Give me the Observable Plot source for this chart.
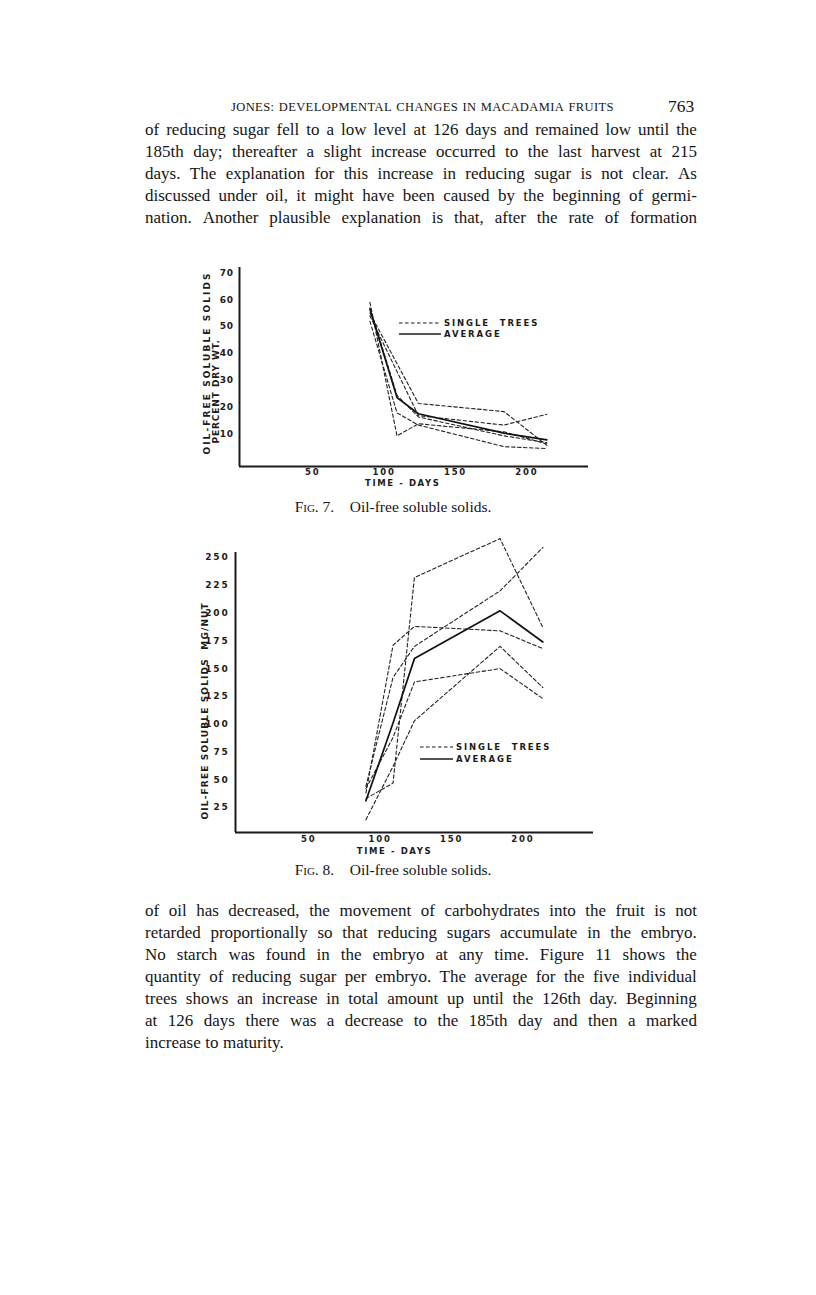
<!DOCTYPE html>
<html>
<head>
<meta charset="utf-8">
<script src="https://cdn.jsdelivr.net/npm/d3@7"></script>
<script src="https://cdn.jsdelivr.net/npm/@observablehq/plot@0.6"></script>
<style>
html, body { margin: 0; padding: 0; background: #fff; }
#page { position: relative; width: 816px; height: 1295px; background: #fff; color: #151515;
  font-family: "Liberation Serif", "DejaVu Serif", serif; overflow: hidden; }
.ln { position: absolute; left: 145px; width: 552px; height: 22px; line-height: 22px; font-size: 17px;
  display: flex; justify-content: space-between; white-space: nowrap; }
.ln.last { justify-content: flex-start; }
.ln.last span { margin-right: 4.5px; }
.hdr { position: absolute; top: 99px; left: 231px; width: 383px; font-size: 12.5px; line-height: 16px;
  display: flex; justify-content: space-between; white-space: nowrap; letter-spacing: 0.4px; }
.pageno { position: absolute; top: 96px; left: 668px; font-size: 17.5px; line-height: 20px; }
.cap { position: absolute; left: 230px; width: 326px; text-align: center; font-size: 15.5px; line-height: 18px; white-space: pre; }
.cap .sc { font-variant: small-caps; }
.chart { position: absolute; }
.chart svg text { font-family: "DejaVu Sans", "Liberation Sans", sans-serif; font-weight: bold; }
.c1 g[aria-label="y-axis tick label"] text { letter-spacing: 0.6px; }
.c1 g[aria-label="x-axis tick label"] text { letter-spacing: 1.8px; }
.c2 g[aria-label="y-axis tick label"] text { letter-spacing: 1.8px; }
.c2 g[aria-label="x-axis tick label"] text { letter-spacing: 1.8px; }
.ttlA text { letter-spacing: 2.1px; }
.ttlB text { letter-spacing: 0.9px; }
.ttlC text { letter-spacing: 1.15px; }
.ttlX text { letter-spacing: 1.6px; }
.legend { position: absolute; font-family: "DejaVu Sans", sans-serif; font-weight: bold; font-size: 8.5px;
  letter-spacing: 1.9px; color: #1b1b1b; }
.legend .row { display: flex; align-items: center; height: 11px; white-space: pre; }
.legend svg { display: block; margin-right: 3px; }
</style>
</head>
<body>
<div id="page"></div>
<script>
// ---------- data ----------
const days = [90, 109, 124, 184, 214];
const xTicks = [50, 100, 150, 200];

// Fig. 7 — oil-free soluble solids, percent dry weight
const fig7YTicks = [10, 20, 30, 40, 50, 60, 70];
const fig7Tree1 = [55, null, 21.5, 18.5, 6];
const fig7Tree2 = [54, null, 17, 13.5, 17.5];
const fig7Tree3 = [59, 9.5, 14, 11, 6.5];
const fig7Tree4 = [52, 18, 13.5, 5.5, 4.8];
const fig7Tree5 = [57, 24.5, 16.5, 9.5, 7];
const fig7Average = [56.5, 23.7, 17.7, 10.5, 8];

// Fig. 8 — oil-free soluble solids, mg per nut
const fig8YTicks = [25, 50, 75, 100, 125, 150, 175, 200, 225, 250];
const fig8Tree1 = [33, 47, 232, 267, 187];
const fig8Tree2 = [44, 142, 170, 220, 259];
const fig8Tree3 = [38, 171, 188, 184, 168];
const fig8Tree4 = [42, 88, 138, 150, 123];
const fig8Tree5 = [14, 62, 103, 170, 133];
const fig8Average = [31, 101, 159, 202, 174];

const legendLabels = ["SINGLE  TREES", "AVERAGE"];

// ---------- page text ----------
const header = "JONES: DEVELOPMENTAL CHANGES IN MACADAMIA FRUITS";
const pageNumber = "763";
const para1 = [
  "of reducing sugar fell to a low level at 126 days and remained low until the",
  "185th day; thereafter a slight increase occurred to the last harvest at 215",
  "days.  The explanation for this increase in reducing sugar is not clear.  As",
  "discussed under oil, it might have been caused by the beginning of germi-",
  "nation.  Another plausible explanation is that, after the rate of formation"
];
const para2 = [
  "of oil has decreased, the movement of carbohydrates into the fruit is not",
  "retarded proportionally so that reducing sugars accumulate in the embryo.",
  "No starch was found in the embryo at any time.  Figure 11 shows the",
  "quantity of reducing sugar per embryo.  The average for the five individual",
  "trees shows an increase in total amount up until the 126th day.  Beginning",
  "at 126 days there was a decrease to the 185th day and then a marked",
  "increase to maturity."
];

const page = document.getElementById("page");

function addLine(text, top, last) {
  const d = document.createElement("div");
  d.className = "ln" + (last ? " last" : "");
  d.style.top = top + "px";
  text.split(/\s+/).forEach(w => { const s = document.createElement("span"); s.textContent = w; d.appendChild(s); });
  page.appendChild(d);
}

const h = document.createElement("div");
h.className = "hdr";
header.split(" ").forEach(w => { const s = document.createElement("span"); s.textContent = w; h.appendChild(s); });
page.appendChild(h);
const pn = document.createElement("div");
pn.className = "pageno"; pn.textContent = pageNumber; page.appendChild(pn);

para1.forEach((t, i) => addLine(t, 119 + i * 22, false));
para2.forEach((t, i) => addLine(t, 900 + i * 22, i === para2.length - 1));

function addCaption(num, top) {
  const c = document.createElement("div");
  c.className = "cap";
  c.style.top = top + "px";
  const sc = document.createElement("span");
  sc.className = "sc"; sc.textContent = "Fig.";
  c.appendChild(sc);
  c.appendChild(document.createTextNode(" " + num + ".    Oil-free soluble solids."));
  page.appendChild(c);
}
addCaption(7, 498);
addCaption(8, 861);

// ---------- charts ----------
function buildChart(o) {
  const rows = [];
  o.trees.forEach((vals, t) => vals.forEach((v, i) => {
    if (v !== null) rows.push({day: days[i], value: v, tree: "Tree " + (t + 1)});
  }));
  const avg = o.average.map((v, i) => ({day: days[i], value: v}));
  const font = {fontWeight: "bold", fontSize: 9, fontFamily: "DejaVu Sans"};
  const yTitleMarks = o.yTitles.map(t => Plot.text([t.text], {
    text: d => d, y: () => t.at, frameAnchor: "left", dx: t.dx, rotate: -90,
    textAnchor: "middle", lineAnchor: "middle",
    fontSize: 9, fontWeight: "bold", fill: "#1b1b1b", className: t.cls
  }));
  return Plot.plot({
    width: o.width, height: o.height,
    marginLeft: o.ml, marginRight: o.mr, marginTop: o.mt, marginBottom: o.mb,
    className: o.cls,
    style: {background: "transparent", overflow: "visible", color: "#1b1b1b"},
    x: {domain: o.xDomain},
    y: {domain: o.yDomain},
    marks: [
      Plot.ruleX([o.xDomain[0]], {stroke: "#1b1b1b", strokeWidth: 2}),
      Plot.ruleY([o.yDomain[0]], {stroke: "#1b1b1b", strokeWidth: 2}),
      Plot.axisX({ticks: xTicks, tickSize: 0, tickPadding: o.xPad, label: null, ...font, fontSize: 8.5, fill: "#1b1b1b"}),
      Plot.axisY({ticks: o.yTicks, tickSize: 0, tickPadding: 6, label: null, ...font, fill: "#1b1b1b"}),
      Plot.line(rows, {x: "day", y: "value", z: "tree", stroke: "#222", strokeWidth: 1.1, strokeDasharray: "3.5,2.5"}),
      Plot.line(avg, {x: "day", y: "value", stroke: "#111", strokeWidth: 1.7}),
      Plot.text(["TIME - DAYS"], {text: d => d, x: () => o.xTitleAt, frameAnchor: "bottom", dy: o.xTitleDy,
        lineAnchor: "middle", textAnchor: "middle",
        fontSize: 8.5, fontWeight: "bold", fill: "#1b1b1b", className: "ttlX"}),
      ...yTitleMarks
    ]
  });
}

function addChart(svg, left, top) {
  const d = document.createElement("div");
  d.className = "chart";
  d.style.left = left + "px"; d.style.top = top + "px";
  d.appendChild(svg);
  page.appendChild(d);
}

function addLegend(left, top, lineLen, gap) {
  const lg = document.createElement("div");
  lg.className = "legend";
  lg.style.left = left + "px"; lg.style.top = top + "px";
  legendLabels.forEach((lab, i) => {
    const r = document.createElement("div");
    r.className = "row";
    r.style.height = gap + "px";
    const ns = "http://www.w3.org/2000/svg";
    const s = document.createElementNS(ns, "svg");
    s.setAttribute("width", lineLen); s.setAttribute("height", 4);
    const l = document.createElementNS(ns, "line");
    l.setAttribute("x1", 0); l.setAttribute("x2", lineLen); l.setAttribute("y1", 2); l.setAttribute("y2", 2);
    l.setAttribute("stroke", "#1b1b1b");
    l.setAttribute("stroke-width", i === 0 ? 1.1 : 1.5);
    if (i === 0) l.setAttribute("stroke-dasharray", "3.5,2.5");
    s.appendChild(l);
    r.appendChild(s);
    const t = document.createElement("span");
    t.textContent = lab;
    r.appendChild(t);
    lg.appendChild(r);
  });
  page.appendChild(lg);
}

const chart1 = buildChart({
  width: 420, height: 245, ml: 59, mr: 12, mt: 12, mb: 34, cls: "c1",
  xDomain: [-1.4, 243.2], yDomain: [-1.85, 71.9], yTicks: fig7YTicks,
  trees: [fig7Tree1, fig7Tree2, fig7Tree3, fig7Tree4, fig7Tree5], average: fig7Average,
  xTitleAt: 113, xTitleDy: 17, xPad: 2,
  yTitles: [
    {text: "OIL-FREE SOLUBLE SOLIDS", at: 36.5, dx: -32, cls: "ttlA"},
    {text: "PERCENT DRY WT.", at: 26, dx: -23, cls: "ttlB"}
  ]
});
addChart(chart1, 180, 255);
addLegend(399, 317, 42, 11.5);

const chart2 = buildChart({
  width: 425, height: 345, ml: 55, mr: 12, mt: 27, mb: 38, cls: "c2",
  xDomain: [-1.4, 249.5], yDomain: [2.5, 254.5], yTicks: fig8YTicks,
  trees: [fig8Tree1, fig8Tree2, fig8Tree3, fig8Tree4, fig8Tree5], average: fig8Average,
  xTitleAt: 110, xTitleDy: 19, xPad: 3,
  yTitles: [
    {text: "OIL-FREE SOLUBLE SOLIDS  MG/NUT", at: 112, dx: -30, cls: "ttlC"}
  ]
});
addChart(chart2, 180, 525);
addLegend(420, 741, 33, 12);
</script>
</body>
</html>
